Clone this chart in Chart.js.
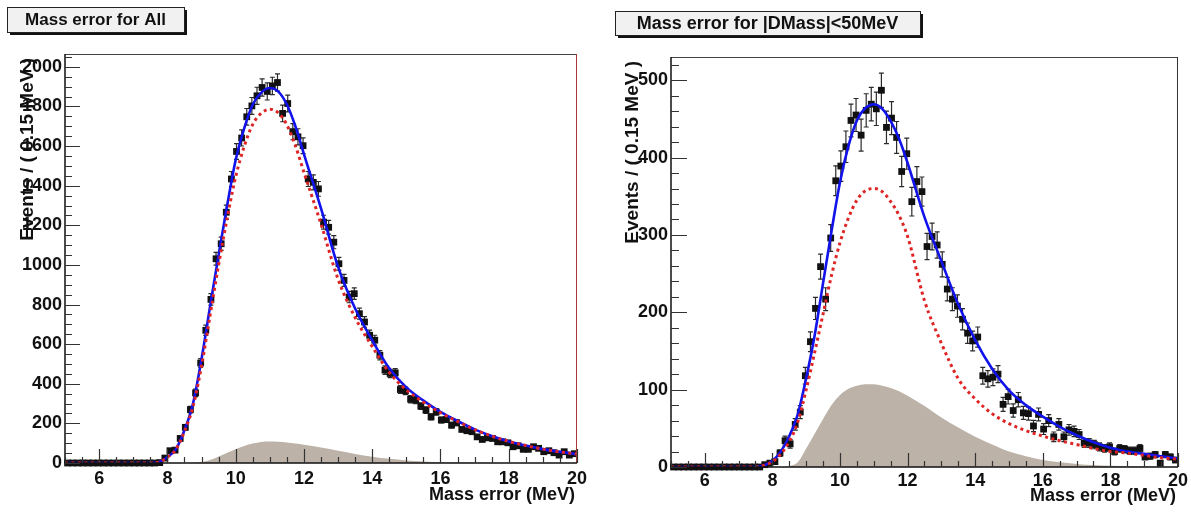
<!DOCTYPE html>
<html>
<head>
<meta charset="utf-8">
<script src="https://cdn.jsdelivr.net/npm/chart.js@4.4.1/dist/chart.umd.min.js"></script>
<style>
  html, body { margin: 0; padding: 0; background: #fff; }
  body { width: 1191px; height: 515px; position: relative; overflow: hidden; }
  canvas { position: absolute; top: 0; }
  #massAll { left: 0; }
  #massCut { left: 595px; }
</style>
</head>
<body>
<canvas id="massAll" width="595" height="515"></canvas>
<canvas id="massCut" width="596" height="515"></canvas>
<script>
// histogram binning: 100 bins of 0.15 MeV from 5 to 20 MeV
const binLo = 5, binWidth = 0.15;

const xTicks = [6, 8, 10, 12, 14, 16, 18, 20];
const allTicksY = [0, 200, 400, 600, 800, 1000, 1200, 1400, 1600, 1800, 2000];
const cutTicksY = [0, 100, 200, 300, 400, 500];

// events per bin
const allCounts = [
  0, 0, 0, 0, 0, 0, 0, 0, 0, 0, 0, 0, 0, 0, 0, 0, 0, 0, 2,
  25, 62, 65, 124, 180, 270, 354, 505, 670, 826,
  1031, 1107, 1266, 1434, 1573, 1641, 1748, 1803, 1854, 1896,
  1876, 1904, 1921, 1765, 1815, 1673, 1647, 1602, 1434,
  1417, 1384, 1216, 1190, 1115, 1006, 922, 838, 855, 754,
  712, 645, 620, 544, 469, 452, 455, 371, 364, 322,
  317, 287, 267, 233, 258, 217, 220, 191, 203, 170,
  163, 158, 132, 119, 127, 124, 107, 107, 102, 82,
  87, 69, 69, 82, 74, 57, 62, 52, 40, 57, 40, 47
];
const cutCounts = [
  0, 0, 0, 0, 0, 0, 0, 0, 0, 0, 0, 0, 0, 0, 0, 0, 0, 0,
  3, 5, 7, 18, 34, 30, 55, 71, 118, 162, 205, 259, 217, 296,
  370, 389, 414, 448, 455, 429, 461, 469, 463, 487, 439, 451,
  426, 382, 405,
  343, 369, 356, 285, 298, 287, 262, 230, 217, 208,
  191, 173, 163, 168, 118, 114, 116, 120, 81, 91,
  73, 87, 70, 69, 53, 68, 49, 60, 39, 55,
  39, 48, 46, 42, 31, 31, 29, 26, 24, 26,
  20, 24, 23, 21, 21, 24, 13, 14, 16, 5, 16, 13, 9
];

// fitted curves, sampled at fitX
const fitX = [5, 7.5, 7.75, 8, 8.25, 8.5, 8.75, 9, 9.25, 9.5, 9.75, 10, 10.25, 10.5, 10.75, 11,
  11.25, 11.5, 11.75, 12, 12.5, 13, 13.5, 14, 14.5, 15, 15.5, 16, 16.5, 17, 17.5, 18, 18.5, 19, 19.5, 20];
const allTotal = [0, 0, 4, 30, 70, 165, 300, 525, 790, 1050, 1300, 1530, 1690, 1810, 1870, 1893,
  1875, 1810, 1700, 1560, 1285, 990, 780, 620, 478, 382, 315, 258, 212, 170, 136, 109, 88, 70, 56, 45];
const allSignal = [0, 0, 4, 30, 68, 160, 285, 490, 745, 1000, 1235, 1445, 1598, 1710, 1766, 1786,
  1768, 1707, 1602, 1468, 1207, 928, 734, 588, 457, 369, 307, 254, 210, 169, 136, 109, 88, 70, 56, 45];
const allBkg = [0, 0, 0, 0, 0, 0, 1, 5, 15, 33, 52, 70, 86, 98, 106, 108,
  107, 103, 98, 92, 78, 62, 46, 32, 21, 13, 8, 4, 2, 1, 0, 0, 0, 0, 0, 0];
const cutTotal = [0, 0, 2, 8, 20, 40, 68, 115, 170, 238, 305, 368, 415, 448, 464, 469,
  463, 447, 424, 393, 323, 266, 210, 164, 127, 99, 80, 65, 52, 41, 32, 25, 20, 17, 14, 11];
const cutSignal = [0, 0, 2, 7, 17, 33, 58, 100, 148, 198, 248, 290, 322, 345, 357, 360,
  356, 343, 325, 298, 215, 160, 114, 88, 69, 56, 47, 40, 34, 29, 24, 20, 18, 15, 12, 10];
const cutBkg = [0, 0, 0, 0, 0, 1, 6, 24, 43, 62, 80, 93, 101, 105, 107, 107,
  105, 102, 98, 92, 79, 64, 51, 39, 29, 20, 14, 9, 6, 4, 2.5, 1.5, 1, 0.5, 0, 0];

Chart.defaults.font.family = "'Liberation Sans', Arial, sans-serif";
Chart.defaults.color = '#111';

const histPoints = counts => counts.map((v, i) => ({ x: binLo + binWidth * (i + 0.5), y: v }));
const curve = ys => fitX.map((x, i) => ({ x: x, y: ys[i] }));

// ROOT-like frame, inner ticks, error bars, title box and axis titles
const rootFrame = {
  id: 'rootFrame',
  beforeDatasetDraw(chart, args) {
    const ds = chart.data.datasets[args.index];
    if (!ds.errorBars) return;
    const ctx = chart.ctx, xs = chart.scales.x, ys = chart.scales.y;
    ctx.save();
    ctx.strokeStyle = '#2a2a2a';
    ctx.lineWidth = 1.2;
    ds.data.forEach(p => {
      const e = Math.sqrt(p.y);
      if (!e) return;
      const px = xs.getPixelForValue(p.x);
      const lo = ys.getPixelForValue(p.y - e), hi = ys.getPixelForValue(p.y + e);
      ctx.beginPath();
      ctx.moveTo(px, lo); ctx.lineTo(px, hi);
      ctx.moveTo(px - 2.5, lo); ctx.lineTo(px + 2.5, lo);
      ctx.moveTo(px - 2.5, hi); ctx.lineTo(px + 2.5, hi);
      ctx.stroke();
    });
    ctx.restore();
  },
  afterDraw(chart, args, opts) {
    const ctx = chart.ctx, a = chart.chartArea;
    const xs = chart.scales.x, ys = chart.scales.y;
    ctx.save();

    // frame
    ctx.lineWidth = 1;
    ctx.strokeStyle = '#444';
    ctx.beginPath(); ctx.moveTo(a.left, a.top + 0.5); ctx.lineTo(a.right, a.top + 0.5); ctx.stroke();
    ctx.strokeStyle = opts.rightColor;
    ctx.beginPath(); ctx.moveTo(a.right - 0.5, a.top); ctx.lineTo(a.right - 0.5, a.bottom); ctx.stroke();
    ctx.strokeStyle = '#111';
    ctx.lineWidth = 1.5;
    ctx.beginPath();
    ctx.moveTo(a.left, a.top); ctx.lineTo(a.left, a.bottom); ctx.lineTo(a.right, a.bottom);
    ctx.stroke();

    // inner ticks
    ctx.lineWidth = 1.2;
    ctx.strokeStyle = '#333';
    ctx.beginPath();
    for (let i = 0; i * opts.yMinor <= ys.max; i++) {
      const v = i * opts.yMinor;
      const y = Math.round(ys.getPixelForValue(v)) + 0.5;
      const len = (v % opts.yMajor === 0) ? opts.yMajorLen : opts.yMinorLen;
      ctx.moveTo(a.left, y); ctx.lineTo(a.left + len, y);
    }
    for (let i = 10; i <= 40; i++) {
      const v = i * 0.5;
      const x = Math.round(xs.getPixelForValue(v)) + 0.5;
      const len = (v % 2 === 0) ? 14 : 6;
      ctx.moveTo(x, a.bottom); ctx.lineTo(x, a.bottom - len);
    }
    ctx.stroke();

    // title box with shadow
    const b = opts.box;
    ctx.fillStyle = '#111';
    ctx.fillRect(b[0] + 3, b[1] + 3, b[2], b[3]);
    ctx.fillStyle = '#f1f1f1';
    ctx.fillRect(b[0], b[1], b[2], b[3]);
    ctx.strokeStyle = '#222';
    ctx.lineWidth = 1;
    ctx.strokeRect(b[0] + 0.5, b[1] + 0.5, b[2], b[3]);
    ctx.fillStyle = '#111';
    ctx.font = 'bold ' + opts.titleSize + "px 'Liberation Sans', Arial, sans-serif";
    ctx.textAlign = 'center';
    ctx.textBaseline = 'middle';
    ctx.fillText(opts.title, b[0] + b[2] / 2, b[1] + b[3] / 2 + 1);

    // axis titles
    ctx.font = "bold 18px 'Liberation Sans', Arial, sans-serif";
    ctx.textAlign = 'right';
    ctx.fillText('Mass error (MeV)', a.right - 2, opts.xTitleY);
    ctx.translate(opts.yTitleX, a.top + 4);
    ctx.rotate(-Math.PI / 2);
    ctx.font = "bold 19px 'Liberation Sans', Arial, sans-serif";
    ctx.fillText('Events / ( 0.15 MeV )', 0, 0);
    ctx.restore();
  }
};

function massErrorChart(id, counts, total, signal, bkg, yTicks, yMax, layout, frame) {
  return new Chart(document.getElementById(id), {
    type: 'scatter',
    data: {
      datasets: [
        {
          label: 'background', type: 'line', data: curve(bkg),
          fill: 'origin', backgroundColor: '#bcb2a8', borderWidth: 0,
          pointRadius: 0, cubicInterpolationMode: 'monotone', order: 5
        },
        {
          label: 'data', data: histPoints(counts), errorBars: true,
          pointStyle: 'rect', pointRadius: 4.8, backgroundColor: '#111',
          borderColor: '#111', borderWidth: 0, clip: false, order: 4
        },
        {
          label: 'total fit', type: 'line', data: curve(total), fill: false,
          borderColor: '#1212ea', borderWidth: 2.6, pointRadius: 0,
          cubicInterpolationMode: 'monotone', order: 2
        },
        {
          label: 'signal', type: 'line', data: curve(signal), fill: false,
          borderColor: '#de2424', borderWidth: 3, borderDash: [3, 3.5], pointRadius: 0,
          cubicInterpolationMode: 'monotone', order: 1
        }
      ]
    },
    options: {
      responsive: false,
      animation: false,
      events: [],
      layout: { padding: { top: layout.top, right: layout.right, left: 0, bottom: 0 } },
      plugins: {
        legend: { display: false },
        tooltip: { enabled: false },
        rootFrame: frame
      },
      scales: {
        x: {
          type: 'linear', min: 5, max: 20,
          grid: { display: false, drawTicks: false },
          border: { display: false },
          ticks: {
            font: { size: 18, weight: 'bold' }, padding: layout.xPad, maxRotation: 0, autoSkip: false,
            callback: v => String(v)
          },
          afterBuildTicks: axis => { axis.ticks = xTicks.map(v => ({ value: v })); },
          afterFit: axis => { axis.height = layout.xHeight; }
        },
        y: {
          type: 'linear', min: 0, max: yMax,
          grid: { display: false, drawTicks: false },
          border: { display: false },
          ticks: {
            font: { size: 18, weight: 'bold' }, padding: 3, autoSkip: false,
            callback: v => String(v)
          },
          afterBuildTicks: axis => { axis.ticks = yTicks.map(v => ({ value: v })); },
          afterFit: axis => { axis.width = layout.yWidth; }
        }
      }
    },
    plugins: [rootFrame]
  });
}

massErrorChart('massAll', allCounts, allTotal, allSignal, allBkg, allTicksY, 2065,
  { top: 54, right: 18, xHeight: 52, yWidth: 65, xPad: 5 },
  { title: 'Mass error for All', titleSize: 17, box: [7, 7, 177, 25],
    yMinor: 50, yMajor: 200, yMajorLen: 15, yMinorLen: 7,
    rightColor: '#a83a3a', xTitleY: 495, yTitleX: 28 });

massErrorChart('massCut', cutCounts, cutTotal, cutSignal, cutBkg, cutTicksY, 530,
  { top: 57, right: 12, xHeight: 48, yWidth: 76, xPad: 3 },
  { title: 'Mass error for |DMass|<50MeV', titleSize: 18, box: [20, 11, 305, 24],
    yMinor: 20, yMajor: 100, yMajorLen: 16, yMinorLen: 8,
    rightColor: '#333', xTitleY: 496, yTitleX: 38 });
</script>
</body>
</html>
